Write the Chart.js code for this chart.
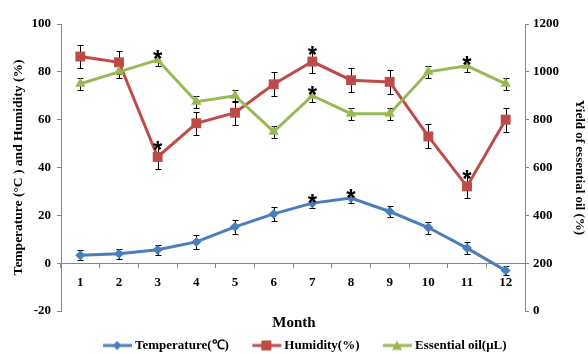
<!DOCTYPE html>
<html>
<head>
<meta charset="utf-8">
<script src="https://cdn.jsdelivr.net/npm/chart.js@4/dist/chart.umd.min.js"></script>
<style>
  html, body { margin: 0; padding: 0; background: #ffffff; }
  #wrap { width: 588px; height: 354px; position: relative; }
</style>
</head>
<body>
<div id="wrap"><canvas id="chart"></canvas></div>
<script>
// Monthly climate readings and essential oil yield
const months = ['1', '2', '3', '4', '5', '6', '7', '8', '9', '10', '11', '12'];

const temperature    = [3.3, 3.9, 5.6, 8.9, 15.2, 20.6, 25.1, 27.2, 21.6, 14.9, 6.3, -3.1];
const temperatureErr = [2.1, 2.2, 2.0, 3.0, 2.8, 3.0, 2.1, 2.1, 2.1, 2.5, 2.5, 2.0];

const humidity    = [86.4, 84.0, 44.4, 58.5, 62.9, 74.8, 84.3, 76.5, 75.8, 53.0, 32.1, 60.0];
const humidityErr = [5.0, 4.9, 5.0, 4.8, 5.0, 5.0, 4.7, 5.0, 5.0, 5.0, 5.0, 5.0];

const essentialOil    = [950, 1000, 1050, 875, 900, 750, 900, 825, 825, 1000, 1025, 950];
const essentialOilErr = [25, 25, 25, 25, 25, 25, 25, 25, 25, 25, 25, 25];

// Months marked as significant (*) for each series
const temperatureSig  = ['7', '8'];
const humiditySig     = ['3', '7', '11'];
const essentialOilSig = ['3', '7', '11'];

const leftTicks  = { min: -20, max: 100, step: 20 };
const rightTicks = { min: 0, max: 1200, step: 200 };

const BLUE = '#4A7EBB';
const RED = '#BE4B48';
const GREEN = '#98B954';
const AXIS = '#868686';
const SERIF = "'Liberation Serif', 'Times New Roman', serif";

// Legend swatch: short line with the series marker in its middle
function swatch(color, shape) {
  const c = document.createElement('canvas');
  c.width = 56; c.height = 12;
  const g = c.getContext('2d');
  g.strokeStyle = color; g.lineWidth = 3;
  g.beginPath(); g.moveTo(26, 6); g.lineTo(55, 6); g.stroke();
  g.fillStyle = color;
  const cx = 40;
  g.beginPath();
  if (shape === 'diamond') {
    g.moveTo(cx, 1.5); g.lineTo(cx + 4.5, 6); g.lineTo(cx, 10.5); g.lineTo(cx - 4.5, 6);
  } else if (shape === 'square') {
    g.rect(cx - 5, 1, 10, 10);
  } else {
    g.moveTo(cx, 1); g.lineTo(cx + 5, 10.5); g.lineTo(cx - 5, 10.5);
  }
  g.closePath(); g.fill();
  return c;
}

const errors = [temperatureErr, humidityErr, essentialOilErr];
const marks = [temperatureSig, humiditySig, essentialOilSig];

// Error bars under the markers, significance stars above the bars
const errorBarPlugin = {
  id: 'errorBars',
  beforeDatasetsDraw(chart) {
    const ctx = chart.ctx;
    ctx.save();
    ctx.strokeStyle = '#000000';
    ctx.lineWidth = 1;
    chart.data.datasets.forEach((ds, i) => {
      const meta = chart.getDatasetMeta(i);
      const scale = chart.scales[meta.yAxisID];
      meta.data.forEach((pt, j) => {
        const v = ds.data[j], e = errors[i][j];
        const x = Math.round(pt.x) + 0.5;
        const yT = Math.round(scale.getPixelForValue(v + e)) + 0.5;
        const yB = Math.round(scale.getPixelForValue(v - e)) + 0.5;
        ctx.beginPath();
        ctx.moveTo(x, yT); ctx.lineTo(x, yB);
        ctx.moveTo(x - 3, yT); ctx.lineTo(x + 3, yT);
        ctx.moveTo(x - 3, yB); ctx.lineTo(x + 3, yB);
        ctx.stroke();
      });
    });
    ctx.restore();
  },
  afterDatasetsDraw(chart) {
    const ctx = chart.ctx;
    ctx.save();
    ctx.fillStyle = '#000000';
    ctx.font = "bold 24px 'Liberation Sans', Arial, sans-serif";
    ctx.textAlign = 'center';
    ctx.textBaseline = 'alphabetic';
    chart.data.datasets.forEach((ds, i) => {
      const meta = chart.getDatasetMeta(i);
      const scale = chart.scales[meta.yAxisID];
      marks[i].forEach(m => {
        const j = months.indexOf(m);
        const yT = scale.getPixelForValue(ds.data[j] + errors[i][j]);
        ctx.fillText('*', meta.data[j].x, yT + 13);
      });
    });
    ctx.restore();
  }
};

const tickFont = { family: SERIF, size: 13, weight: 'bold' };

new Chart(document.getElementById('chart'), {
  type: 'line',
  data: {
    labels: months,
    datasets: [
      {
        label: 'Temperature(\u2103)',
        data: temperature,
        yAxisID: 'y',
        borderColor: BLUE, backgroundColor: BLUE,
        borderWidth: 3, pointStyle: 'rectRot', pointRadius: 5,
        pointBorderWidth: 0, tension: 0, order: 3
      },
      {
        label: 'Humidity(%)',
        data: humidity,
        yAxisID: 'y',
        borderColor: RED, backgroundColor: RED,
        borderWidth: 3, pointStyle: 'rect', pointRadius: 7,
        pointBorderWidth: 0, tension: 0, order: 2
      },
      {
        label: 'Essential oil(\u03bcL)',
        data: essentialOil,
        yAxisID: 'y2',
        borderColor: GREEN, backgroundColor: GREEN,
        borderWidth: 3, pointStyle: 'triangle', pointRadius: 6,
        pointBorderWidth: 0, tension: 0, order: 1
      }
    ]
  },
  options: {
    responsive: true,
    maintainAspectRatio: false,
    animation: false,
    events: [],
    layout: { padding: { top: 24, right: 0, bottom: -8, left: 0 } },
    scales: {
      x: {
        type: 'category',
        position: { y: 0 },
        offset: true,
        border: { display: true, color: AXIS, width: 1 },
        grid: { display: true, offset: true, drawOnChartArea: false, drawTicks: true, tickLength: 4, color: AXIS },
        ticks: { font: tickFont, color: '#000000', padding: 8, maxRotation: 0 }
      },
      y: {
        position: 'left',
        min: leftTicks.min, max: leftTicks.max,
        border: { display: true, color: AXIS, width: 1 },
        grid: { drawOnChartArea: false, drawTicks: true, tickLength: 4, color: AXIS },
        ticks: { stepSize: leftTicks.step, font: tickFont, color: '#000000', padding: 6 },
        title: {
          display: true,
          text: 'Temperature (\u00b0C ) and Humidity (%)',
          font: { family: SERIF, size: 13.5, weight: 'bold' },
          color: '#000000',
          padding: { top: 10, bottom: 0 }
        },
        afterFit(scale) { scale.width = 61; }
      },
      y2: {
        position: 'right',
        min: rightTicks.min, max: rightTicks.max,
        border: { display: true, color: AXIS, width: 1 },
        grid: { drawOnChartArea: false, drawTicks: true, tickLength: 4, color: AXIS },
        ticks: {
          stepSize: rightTicks.step, font: tickFont, color: '#000000', padding: 4,
          callback: v => String(v)
        },
        title: {
          display: true,
          text: 'Yield of essential oil (%)',
          font: { family: SERIF, size: 13, weight: 'bold' },
          color: '#000000',
          padding: { top: 1, bottom: 0 }
        },
        afterFit(scale) { scale.width = 63; }
      }
    },
    plugins: {
      title: {
        display: true,
        text: 'Month',
        position: 'bottom',
        weight: 500,
        color: '#000000',
        font: { family: SERIF, size: 15, weight: 'bold' },
        padding: { top: 3, bottom: 5 }
      },
      legend: {
        display: true,
        position: 'bottom',
        weight: 1000,
        labels: {
          usePointStyle: true,
          pointStyleWidth: 47,
          color: '#000000',
          font: { family: SERIF, size: 13, weight: 'bold' },
          padding: 2,
          generateLabels(chart) {
            const shapes = ['diamond', 'square', 'triangle'];
            return chart.data.datasets.map((ds, i) => ({
              text: ds.label,
              fillStyle: ds.backgroundColor,
              strokeStyle: ds.borderColor,
              lineWidth: 0,
              pointStyle: swatch(ds.borderColor, shapes[i]),
              fontColor: '#000000',
              hidden: false,
              datasetIndex: i
            }));
          }
        }
      },
      tooltip: { enabled: false }
    }
  },
  plugins: [errorBarPlugin]
});
</script>
</body>
</html>
